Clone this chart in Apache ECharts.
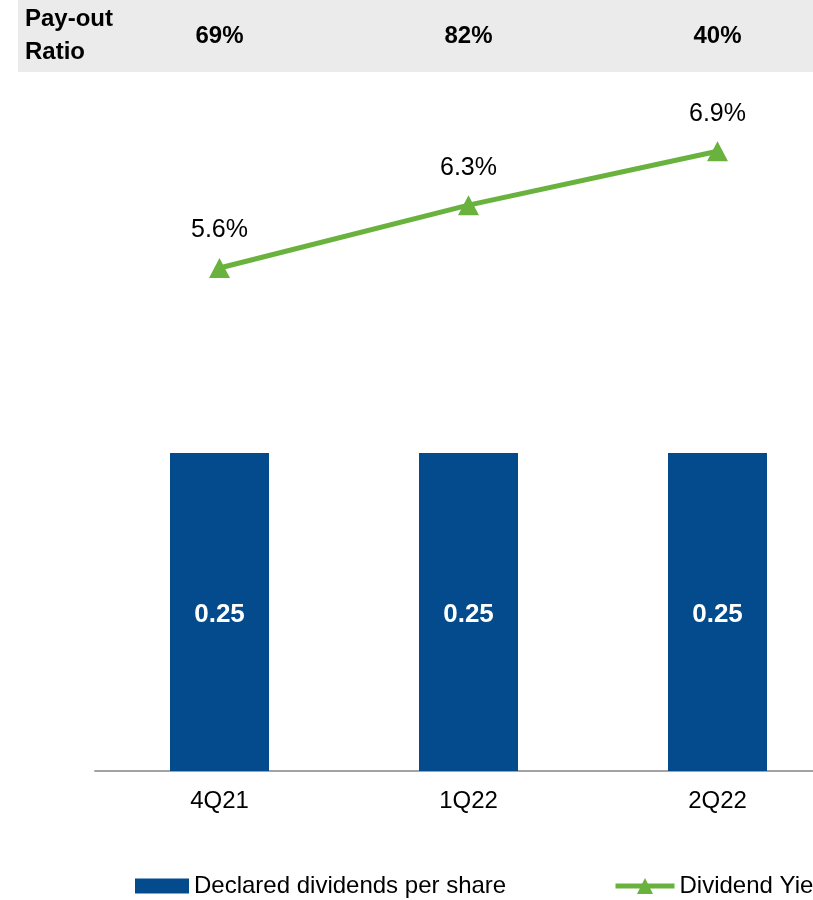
<!DOCTYPE html>
<html>
<head>
<meta charset="utf-8">
<script src="https://cdn.jsdelivr.net/npm/echarts@6/dist/echarts.min.js"></script>
<style>html,body{margin:0;padding:0;background:#fff;overflow:hidden;}#c{width:842px;height:900px;}</style>
</head>
<body>
<div id="c"></div>
<script>
const categories = ['4Q21', '1Q22', '2Q22'];
const dividends = [0.25, 0.25, 0.25];
const dividendYield = [5.6, 6.3, 6.9];
const payoutRatio = ['69%', '82%', '40%'];
const payoutTitle = 'Pay-out\nRatio';
const barName = 'Declared dividends per share';
const lineName = 'Dividend Yield';

const FONT = '"Liberation Sans", Arial, sans-serif';
const BLUE = '#034b8c';
const GREEN = '#6ab23e';

const chart = echarts.init(document.getElementById('c'), null, {renderer: 'canvas'});
chart.setOption({
  animation: false,
  backgroundColor: '#ffffff',
  textStyle: {fontFamily: FONT},
  graphic: [
    {type: 'rect', z: -10, shape: {x: 18, y: 0, width: 824, height: 72}, style: {fill: '#ebebeb'}},
    {type: 'text', z: 10, left: 25, top: 3, style: {text: payoutTitle, font: 'bold 24px ' + FONT, fill: '#000', lineHeight: 33}}
  ],
  legend: [
    {data: [barName], icon: 'rect', left: 135, top: 874, padding: 0, itemWidth: 54, itemHeight: 15,
     textStyle: {fontSize: 24, color: '#000', fontFamily: FONT}},
    {data: [lineName], left: 613, top: 874, padding: 0, itemWidth: 59, itemHeight: 20,
     lineStyle: {width: 5, color: GREEN},
     textStyle: {fontSize: 24, color: '#000', fontFamily: FONT}}
  ],
  grid: [
    {left: 95, right: 0, top: 0, bottom: 129, containLabel: false},
    {left: 95, right: 0, top: 0, height: 36, containLabel: false}
  ],
  xAxis: [
    {type: 'category', gridIndex: 0, data: categories,
     axisLine: {lineStyle: {color: '#a3a3a3', width: 2}}, axisTick: {show: false},
     axisLabel: {color: '#000', fontSize: 24, margin: 18, fontFamily: FONT}},
    {type: 'category', gridIndex: 1, data: categories, z: 10,
     axisLine: {show: false}, axisTick: {show: false},
     axisLabel: {color: '#000', fontSize: 24, fontWeight: 'bold', margin: 0, verticalAlign: 'middle', fontFamily: FONT,
       formatter: function (v, i) { return payoutRatio[i]; }}}
  ],
  yAxis: [
    {type: 'value', gridIndex: 0, min: 0, max: 0.6061, show: false, splitLine: {show: false}},
    {type: 'value', gridIndex: 0, min: 0, max: 8.584, show: false, splitLine: {show: false}},
    {type: 'value', gridIndex: 1, show: false, splitLine: {show: false}}
  ],
  series: [
    {name: barName, type: 'bar', xAxisIndex: 0, yAxisIndex: 0, data: dividends, barWidth: 99,
     itemStyle: {color: BLUE},
     label: {show: true, position: 'inside', offset: [0, 3], color: '#fff', fontSize: 26, fontWeight: 'bold', fontFamily: FONT,
       formatter: function (p) { return p.value.toFixed(2); }}},
    {name: lineName, type: 'line', xAxisIndex: 0, yAxisIndex: 1, data: dividendYield,
     symbol: 'triangle', symbolSize: [21, 20], lineStyle: {color: GREEN, width: 5}, itemStyle: {color: GREEN},
     label: {show: true, position: 'top', distance: 15, color: '#000', fontSize: 25, fontFamily: FONT,
       formatter: function (p) { return p.value.toFixed(1) + '%'; }}}
  ]
});
</script>
</body>
</html>
